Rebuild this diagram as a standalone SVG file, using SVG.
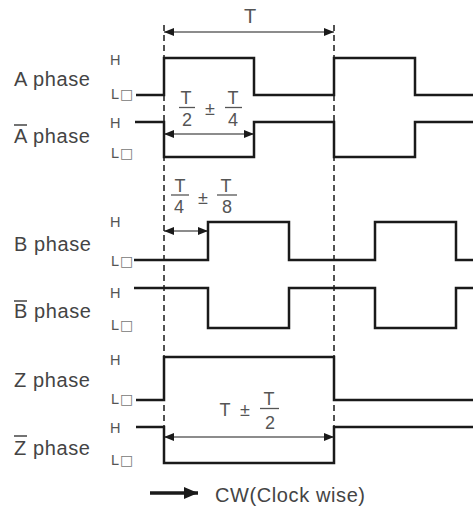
<svg xmlns="http://www.w3.org/2000/svg" width="473" height="508" viewBox="0 0 473 508">
<defs>
<style>
.lbl{font-family:"Liberation Sans","DejaVu Sans",sans-serif;font-size:20px;fill:#444;letter-spacing:0.6px}
.hl{font-family:"Liberation Sans","DejaVu Sans",sans-serif;font-size:14.5px;fill:#555}
.sq{font-family:"DejaVu Sans",sans-serif;font-size:14px;fill:#777}
.fr{font-family:"Liberation Sans","DejaVu Sans",sans-serif;font-size:18px;fill:#555;text-anchor:middle}
.wave{fill:none;stroke:#1a1a1a;stroke-width:2.5;stroke-linejoin:miter}
.dash{fill:none;stroke:#1a1a1a;stroke-width:1.5;stroke-dasharray:6 4}
.dim{fill:none;stroke:#1a1a1a;stroke-width:1.2;marker-start:url(#ah);marker-end:url(#ah)}
.bar{stroke:#555;stroke-width:1.3}
.ovl{stroke:#444;stroke-width:1.5}
</style>
<marker id="ah" viewBox="0 0 10 8" refX="10" refY="4" markerWidth="10" markerHeight="8" markerUnits="userSpaceOnUse" orient="auto-start-reverse">
<path d="M0,0 L10,4 L0,8 Z" fill="#1a1a1a"/>
</marker>
<marker id="cw" viewBox="0 0 14 12" refX="14" refY="6" markerWidth="14" markerHeight="12" markerUnits="userSpaceOnUse" orient="auto">
<path d="M0,0 L14,6 L0,12 Z" fill="#1a1a1a"/>
</marker>
</defs>

<g id="connectors">
<line class="dash" x1="164" y1="25" x2="164" y2="463"/>
<line class="dash" x1="334" y1="25" x2="334" y2="463"/>
<line class="dim" x1="164" y1="32" x2="334" y2="32"/>
<line class="dim" x1="164" y1="134" x2="254" y2="134"/>
<line class="dim" x1="164" y1="231" x2="208" y2="231"/>
<line class="dim" x1="164" y1="437" x2="334" y2="437"/>
<line x1="150" y1="493" x2="198" y2="493" stroke="#1a1a1a" stroke-width="3.5" marker-end="url(#cw)"/>
</g>

<g id="period-label">
<text class="fr" x="250" y="23" style="font-size:20px">T</text>
</g>

<g id="a-phase">
<text class="lbl" x="14" y="86">A phase</text>
<text class="hl" x="110" y="65">H</text>
<text class="hl" x="111" y="99">L<tspan class="sq" dx="1">□</tspan></text>
<polyline class="wave" points="136,95 164,95 164,58 254,58 254,95 334,95 334,58 415,58 415,95 473,95"/>
</g>

<g id="a-bar-phase">
<line class="ovl" x1="14" y1="125" x2="27" y2="125"/>
<text class="lbl" x="14" y="143">A phase</text>
<text class="hl" x="110" y="128">H</text>
<text class="hl" x="111" y="158">L<tspan class="sq" dx="1">□</tspan></text>
<polyline class="wave" points="135,122 164,122 164,157 254,157 254,122 334,122 334,157 415,157 415,122 473,122"/>
</g>

<g id="ab-tolerance">
<text class="fr" x="186" y="104">T</text>
<line class="bar" x1="179" y1="107.5" x2="195" y2="107.5"/>
<text class="fr" x="187" y="126">2</text>
<text class="fr" x="210" y="115">±</text>
<text class="fr" x="233" y="104">T</text>
<line class="bar" x1="225" y1="107.5" x2="242" y2="107.5"/>
<text class="fr" x="233" y="126">4</text>
</g>

<g id="b-tolerance">
<text class="fr" x="180" y="192">T</text>
<line class="bar" x1="171" y1="195" x2="189" y2="195"/>
<text class="fr" x="179" y="213">4</text>
<text class="fr" x="203" y="204">±</text>
<text class="fr" x="226" y="192">T</text>
<line class="bar" x1="217" y1="195" x2="237" y2="195"/>
<text class="fr" x="227" y="213">8</text>
</g>

<g id="b-phase">
<text class="lbl" x="14" y="251">B phase</text>
<text class="hl" x="110" y="227">H</text>
<text class="hl" x="111" y="266">L<tspan class="sq" dx="1">□</tspan></text>
<polyline class="wave" points="134,260 208,260 208,222 289,222 289,260 375,260 375,222 456,222 456,260 473,260"/>
</g>

<g id="b-bar-phase">
<line class="ovl" x1="14" y1="301" x2="27" y2="301"/>
<text class="lbl" x="14" y="318">B phase</text>
<text class="hl" x="110" y="298">H</text>
<text class="hl" x="111" y="330">L<tspan class="sq" dx="1">□</tspan></text>
<polyline class="wave" points="134,288 208,288 208,328 289,328 289,288 375,288 375,328 456,328 456,288 473,288"/>
</g>

<g id="z-phase">
<text class="lbl" x="14" y="387">Z phase</text>
<text class="hl" x="110" y="365">H</text>
<text class="hl" x="111" y="404">L<tspan class="sq" dx="1">□</tspan></text>
<polyline class="wave" points="136,400 164,400 164,357 334,357 334,400 473,400"/>
</g>

<g id="z-bar-phase">
<line class="ovl" x1="14" y1="436" x2="27" y2="436"/>
<text class="lbl" x="14" y="455">Z phase</text>
<text class="hl" x="110" y="433">H</text>
<text class="hl" x="111" y="465">L<tspan class="sq" dx="1">□</tspan></text>
<polyline class="wave" points="136,427 164,427 164,463 334,463 334,427 473,427"/>
</g>

<g id="z-tolerance">
<text class="fr" x="225" y="416">T</text>
<text class="fr" x="245" y="416">±</text>
<text class="fr" x="269" y="405">T</text>
<line class="bar" x1="260" y1="408.5" x2="279" y2="408.5"/>
<text class="fr" x="270" y="429">2</text>
</g>

<g id="cw-legend">
<text class="lbl" x="215" y="502">CW(Clock wise)</text>
</g>
</svg>
